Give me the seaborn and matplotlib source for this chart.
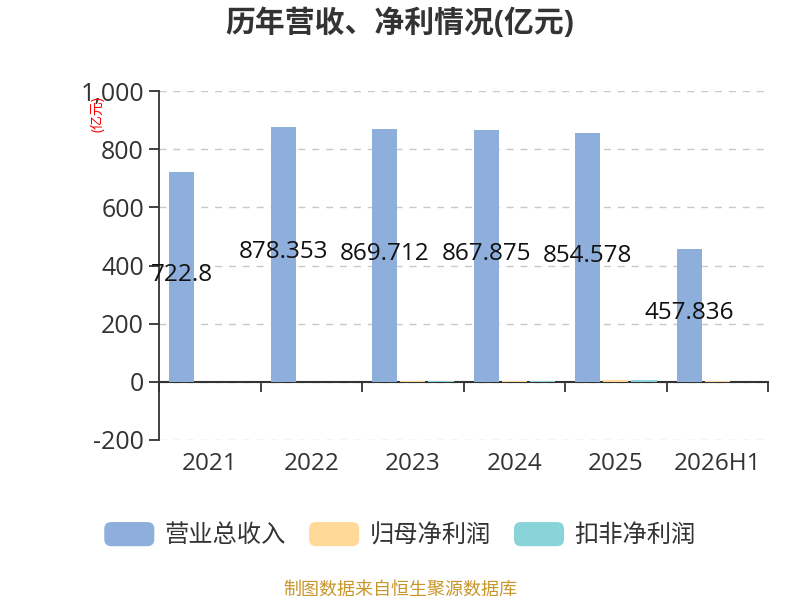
import pandas as pd
import matplotlib.pyplot as plt
import seaborn as sns
from matplotlib.patches import FancyBboxPatch, Patch
from matplotlib.legend_handler import HandlerPatch
import matplotlib.transforms as mtransforms

# data
years = ["2021", "2022", "2023", "2024", "2025", "2026H1"]
revenue = [722.8, 878.353, 869.712, 867.875, 854.578, 457.836]
net_profit = [0.1, 0.5, 2.5, 2.0, 6.0, 0.8]
deducted_profit = [0.1, 0.4, 3.0, 3.2, 6.5, 0.6]
series_names = ["营业总收入", "归母净利润", "扣非净利润"]
colors = ["#8eaedb", "#ffd998", "#88d4d9"]
yticks = [-200, 0, 200, 400, 600, 800, 1000]

df = pd.DataFrame({
    "year": years * 3,
    "value": revenue + net_profit + deducted_profit,
    "series": [series_names[0]] * 6 + [series_names[1]] * 6 + [series_names[2]] * 6,
})

sns.set_theme(style="white")
plt.rcParams['font.family'] = ['Open Sans', 'Noto Sans CJK SC', 'DejaVu Sans']
plt.rcParams['axes.unicode_minus'] = False

fig = plt.figure(figsize=(8, 6), dpi=100)
ax = fig.add_axes([0.199, 0.267, 0.761, 0.581])

group_w = 0.83
sns.barplot(data=df, x="year", y="value", hue="series", palette=colors, saturation=1,
            width=group_w, gap=0.1, ax=ax, legend=False, edgecolor="none", linewidth=0, zorder=3)

ax.set_ylim(-200, 1000)
ax.set_xlim(-0.5, 5.5)
ax.set_yticks(yticks)
ax.set_yticklabels([f"{v:,}" for v in yticks], fontsize=18, color="#333333")
ax.yaxis.grid(True, linestyle=(0, (5, 5)), color="#c8c8c8", linewidth=1, zorder=0)
ax.set_axisbelow(True)

for s in ["top", "right"]:
    ax.spines[s].set_visible(False)
ax.spines["left"].set_color("#333333")
ax.spines["left"].set_linewidth(1.3)
ax.spines["bottom"].set_position(("data", 0))
ax.spines["bottom"].set_color("#333333")
ax.spines["bottom"].set_linewidth(1.5)
ax.spines["bottom"].set_zorder(2.5)

ax.set_xticks([i - 0.5 for i in range(len(years) + 1)])
ax.set_xticklabels([])
ax.tick_params(axis="x", bottom=True, direction="out", length=7, width=1.3, color="#333333")
ax.tick_params(axis="y", left=True, direction="out", length=7, width=1.3, color="#333333", pad=4)
ax.set_xlabel("")
ax.set_ylabel("")

trans = mtransforms.blended_transform_factory(ax.transData, ax.transAxes)
for i, y in enumerate(years):
    ax.text(i, -0.07, y, transform=trans, ha="center", va="center", fontsize=17.5, color="#333333")

# value labels on revenue bars
bar_w = group_w / 3
for i, v in enumerate(revenue):
    ax.text(i - bar_w, v / 2 + 6, f"{v:g}", ha="center", va="center", fontsize=17.5,
            color="#111111", zorder=5)

ax.text(-0.1, 0.935, "(亿元)", transform=ax.transAxes, rotation=90, ha="center", va="center",
        fontsize=10, color="red")

fig.text(0.5, 0.96, "历年营收、净利情况(亿元)", ha="center", va="center", fontsize=21.5,
         fontweight="bold", color="#333333")


class RoundHandler(HandlerPatch):
    def create_artists(self, legend, orig_handle, xdescent, ydescent, width, height, fontsize, trans):
        p = FancyBboxPatch((-xdescent, -ydescent), width, height,
                           boxstyle="round,pad=0,rounding_size=5",
                           facecolor=orig_handle.get_facecolor(), edgecolor="none",
                           transform=trans)
        return [p]


handles = [Patch(facecolor=c, label=n) for c, n in zip(colors, series_names)]
fig.legend(handles=handles, loc="center", bbox_to_anchor=(0.5, 0.108), ncol=3, frameon=False,
           fontsize=17.5, handlelength=2.06, handleheight=1.15, handletextpad=0.43, columnspacing=0.95,
           handler_map={Patch: RoundHandler()}, labelcolor="#333333")

fig.text(0.5, 0.018, "制图数据来自恒生聚源数据库", ha="center", va="center", fontsize=13,
         color="#c8962a")

fig.savefig("out.png", dpi=100)
